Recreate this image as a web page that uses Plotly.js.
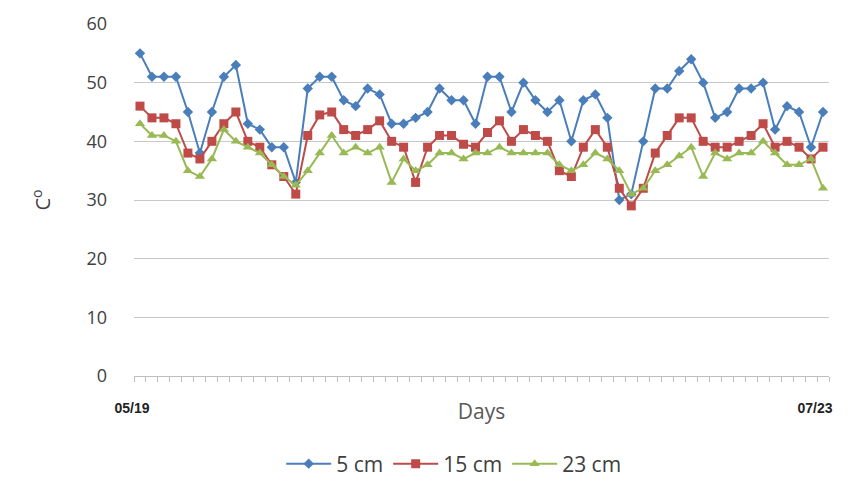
<!DOCTYPE html>
<html>
<head>
<meta charset="utf-8">
<script src="https://cdn.plot.ly/plotly-3.0.1.min.js"></script>
<style>html,body{margin:0;padding:0;background:#fff;}#chart{width:858px;height:496px;}</style>
</head>
<body>
<div id="chart"></div>
<script>
// Day index (58 observation days, 05/19 .. 07/23)
const days = Array.from({length: 58}, (_, i) => i + 1);
const tickLabels = ["05/19", "07/23"];
const tickDays = [1, 58];

const seriesNames = ["5 cm", "15 cm", "23 cm"];

const temp5cm = [55,51,51,51,45,38,45,51,53,43,42,39,39,33,49,51,51,47,46,
  49,48,43,43,44,45,49,47,47,43,51,51,45,50,47,45,47,40,
  47,48,44,30,31,40,49,49,52,54,50,44,45,49,49,50,42,46,45,39,45];

const temp15cm = [46,44,44,43,38,37,40,43,45,40,39,36,34,31,41,44.5,45,42,41,
  42,43.5,40,39,33,39,41,41,39.5,39,41.5,43.5,40,42,41,40,35,34,
  39,42,39,32,29,32,38,41,44,44,40,39,39,40,41,43,39,40,39,37,39];

const temp23cm = [43,41,41,40,35,34,37,42,40,39,38,36,34,32.5,35,38,41,38,39,
  38,39,33,37,35,36,38,38,37,38,38,39,38,38,38,38,36,35,
  36,38,37,35,31,32,35,36,37.5,39,34,38,37,38,38,40,38,36,36,37,32];

const colors = ["#4A7EBB", "#BE4B48", "#98B954"];
const symbols = ["diamond", "square", "triangle-up"];
const sizes = [8, 9, 9];
const values = [temp5cm, temp15cm, temp23cm];
const xAxesOf = ["x", "x", "x2"];

const traces = values.map((v, i) => ({
  x: days,
  y: v,
  xaxis: xAxesOf[i],
  yaxis: "y",
  name: seriesNames[i],
  type: "scatter",
  mode: "lines+markers",
  line: {color: colors[i], width: 2},
  marker: {color: colors[i], symbol: symbols[i], size: sizes[i]}
}));

const layout = {
  width: 858,
  height: 496,
  margin: {l: 134, r: 29, t: 24, b: 118},
  paper_bgcolor: "#ffffff",
  plot_bgcolor: "#ffffff",
  font: {family: "Open Sans, Liberation Sans, sans-serif", color: "#404040"},
  showlegend: true,
  legend: {
    orientation: "h",
    x: 0.46, xanchor: "center",
    y: -0.25, yanchor: "middle",
    font: {size: 21, color: "#404040"},
    itemwidth: 45,
    tracegroupgap: 0
  },
  xaxis: {
    range: [0.5, 58.5],
    showgrid: false,
    zeroline: false,
    showline: true,
    linecolor: "#BFBFBF",
    linewidth: 1,
    showticklabels: false,
    ticks: "",
    minor: {tickmode: "linear", tick0: 0.5, dtick: 1, ticks: "outside", ticklen: 5, tickcolor: "#BFBFBF", showgrid: false},
    title: {text: "Days", font: {size: 21, color: "#595959"}, standoff: 28}
  },
  xaxis2: {
    overlaying: "x",
    matches: "x",
    anchor: "y",
    side: "bottom",
    range: [0.5, 58.5],
    showgrid: false,
    zeroline: false,
    showline: false,
    tickmode: "array",
    tickvals: tickDays,
    ticktext: tickLabels,
    ticks: "",
    ticklabelstandoff: 22,
    ticklabelshift: -8,
    tickfont: {size: 14, color: "#222222", family: "Liberation Sans, sans-serif", weight: "bold"}
  },
  yaxis: {
    range: [0, 60],
    tickmode: "linear",
    tick0: 0,
    dtick: 10,
    showgrid: true,
    gridcolor: "#C8C8C8",
    gridwidth: 1,
    zeroline: false,
    showline: false,
    ticks: "",
    ticklabelstandoff: 26,
    tickfont: {size: 18, color: "#404040"},
    title: {text: "C<sup>o</sup>", font: {size: 20, color: "#404040"}, standoff: 30}
  }
};

Plotly.newPlot("chart", traces, layout, {displayModeBar: false, staticPlot: true});
</script>
</body>
</html>
